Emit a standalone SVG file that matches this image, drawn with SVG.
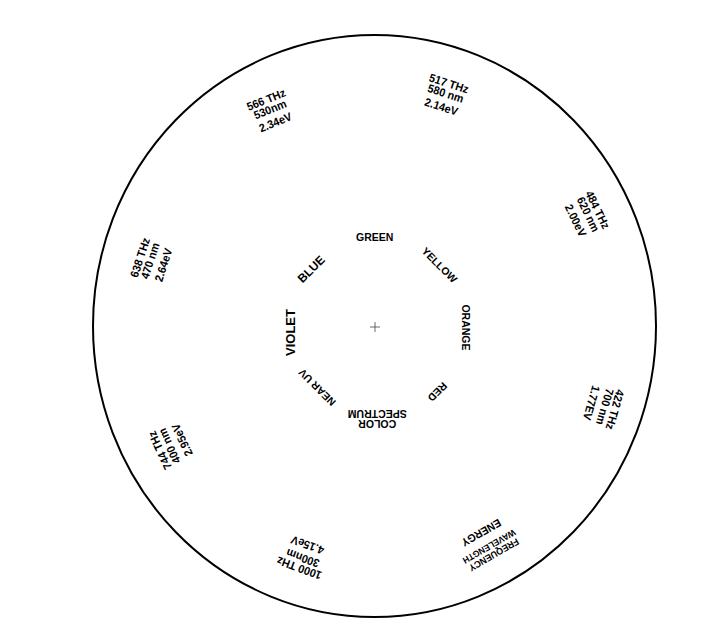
<svg xmlns="http://www.w3.org/2000/svg" width="703" height="644" viewBox="0 0 703 644">
<style>
text{font-family:"Liberation Sans",Arial,sans-serif;fill:#000;text-anchor:middle}
.ring{font-size:10.5px;font-weight:bold}
.out{font-size:11.5px;font-weight:bold}
.sm{font-size:9.5px;font-weight:bold}
</style>
<rect width="703" height="644" fill="#fff"/>
<g id="outline">
<ellipse cx="374.5" cy="326" rx="281.5" ry="291" fill="none" stroke="#000" stroke-width="2"/>
</g>
<g id="center-mark" stroke="#444" stroke-width="0.8">
<line x1="370" y1="327" x2="380" y2="327"/>
<line x1="375" y1="322" x2="375" y2="332"/>
</g>
<g id="ring-labels">
<g id="green" transform="translate(374.7 237)"><text class="ring" y="3.8">GREEN</text></g>
<g id="yellow" transform="translate(439.5 265) rotate(45)"><text class="ring" y="3.8">YELLOW</text></g>
<g id="orange" transform="translate(465.5 327.5) rotate(90)"><text class="ring" y="3.8">ORANGE</text></g>
<g id="red" transform="translate(437.5 392) rotate(135)"><text class="ring" y="3.8">RED</text></g>
<g id="color-spectrum" transform="translate(377.2 418.8) rotate(180)"><text class="ring" y="-1.5">COLOR</text><text class="ring" y="9">SPECTRUM</text></g>
<g id="near-uv" transform="translate(317 387.5) rotate(225)"><text class="ring" y="3.8">NEAR UV</text></g>
<g id="violet" transform="translate(290 332.5) rotate(-90)"><text class="ring" style="font-size:13px" y="4.6">VIOLET</text></g>
<g id="blue" transform="translate(311 269) rotate(-45)"><text class="ring" style="font-size:12px" y="4.3">BLUE</text></g>
</g>
<g id="outer-labels">
<g id="band-566" transform="translate(270 109.3) rotate(-22) scale(0.94 1)"><text class="out" y="-6.4">566 THz</text><text class="out" y="4.1">530nm</text><text class="out" y="18.1">2.34eV</text></g>
<g id="band-517" transform="translate(445.7 93.3) rotate(18) scale(0.94 1)"><text class="out" y="-6.4">517 THz</text><text class="out" y="4.1">580 nm</text><text class="out" y="18.1">2.14eV</text></g>
<g id="band-484" transform="translate(588.3 214.3) rotate(64) scale(0.94 1)"><text class="out" y="-6.4">484 THz</text><text class="out" y="4.1">620 nm</text><text class="out" y="18.1">2.00eV</text></g>
<g id="band-422" transform="translate(605 406.7) rotate(106) scale(0.94 1)"><text class="out" y="-6.4">422 THz</text><text class="out" y="4.1">700 nm</text><text class="out" y="18.1">1.77EV</text></g>
<g id="legend" transform="translate(489.3 546.7) rotate(150) scale(0.94 1)"><text class="sm" y="-6">FREQUENCY</text><text class="sm" style="font-size:9px" y="3.4">WAVELENGTH</text><text class="out" style="font-size:11px" y="20">ENERGY</text></g>
<g id="band-1000" transform="translate(302.7 558.3) rotate(200) scale(0.94 1)"><text class="out" y="-6.4">1000 THz</text><text class="out" y="4.1">300nm</text><text class="out" y="18.1">4.15eV</text></g>
<g id="band-744" transform="translate(169.3 446) rotate(245) scale(0.94 1)"><text class="out" y="-6.4">744 THz</text><text class="out" y="4.1">400 nm</text><text class="out" y="18.1">2.95eV</text></g>
<g id="band-638" transform="translate(150 260.7) rotate(288) scale(0.94 1)"><text class="out" y="-6.4">638 THz</text><text class="out" y="4.1">470 nm</text><text class="out" y="18.1">2.64eV</text></g>
</g>
</svg>
